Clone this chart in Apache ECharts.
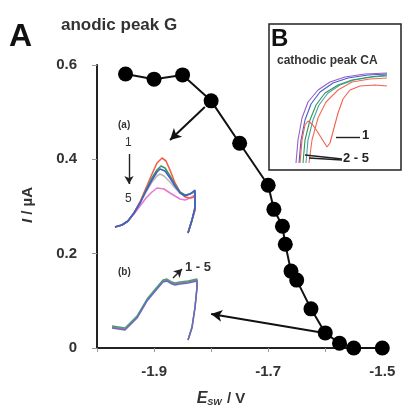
<!DOCTYPE html>
<html>
<head>
<meta charset="utf-8">
<script src="https://cdn.jsdelivr.net/npm/echarts@6/dist/echarts.min.js"></script>
<style>
  html, body { margin: 0; padding: 0; background: #fff; }
  #chart { width: 404px; height: 409px; }
</style>
</head>
<body>
<div id="chart"></div>
<script>
// main curve: anodic peak G current vs switching potential
const potentials = [-1.95, -1.90, -1.85, -1.80, -1.75, -1.70, -1.69, -1.675, -1.67, -1.66, -1.65, -1.625, -1.60, -1.575, -1.55, -1.50];
const currents   = [0.581, 0.570, 0.579, 0.524, 0.434, 0.345, 0.294, 0.258, 0.220, 0.163, 0.144, 0.083, 0.032, 0.010, 0.0, 0.0];
const xLabels = [-1.9, -1.7, -1.5];

// inset (a): voltammograms 1..5, inset units 0..100
const insetA1 = [[5,13],[12,15],[18,19],[24,27],[30,38],[36,52],[42,66],[47,77],[52,82],[56,79],[60,70],[65,57],[70,48],[75,43],[80,42],[85,43],[87,41],[85,30],[82,20],[78,7]];
const insetA2 = [[5,13],[12,15],[18,19],[24,27],[30,37],[36,50],[42,62],[47,70],[51,74],[55,72],[60,64],[65,55],[70,48],[75,45],[80,46],[85,49],[87,49],[85,32],[82,20],[78,7]];
const insetA3 = [[5,13],[12,15],[18,19],[24,27],[30,37],[36,48],[42,58],[47,64],[50,66],[54,64],[60,58],[65,52],[70,47],[75,45],[80,46],[85,48],[87,48],[85,31],[82,20],[78,7]];
const insetA4 = [[5,13],[12,15],[18,19],[24,27],[30,37],[36,49],[42,60],[47,68],[50,71],[55,69],[60,62],[65,54],[70,47],[75,44],[80,46],[85,50],[87,50],[85,33],[82,20],[78,7]];
const insetA5 = [[5,13],[12,15],[18,19],[24,26],[30,34],[36,42],[42,48],[47,52],[49,53],[54,51],[60,47],[65,44],[70,41],[75,40],[80,42],[85,45],[87,44],[85,30],[82,20],[78,7]];

// inset (b): voltammograms 1..5 nearly overlapping
const insetB1 = [[2,23],[15,21],[27,33],[37,50],[47,62],[53,69],[57,70],[62,67],[65,66],[70,67],[78,68],[87,70],[87,63],[85,43],[82,23],[78,10]];
const insetB2 = [[2,24],[15,22],[27,34],[37,51],[47,63],[53,70],[57,71],[62,68],[65,67],[70,68],[78,69],[87,71],[87,63],[85,43],[82,23],[78,10]];
const insetB3 = [[2,22],[15,20],[27,32],[37,49],[47,61],[53,68],[57,69],[62,66],[65,65],[70,66],[78,67],[87,69],[87,62],[85,42],[82,22],[78,10]];

// inset B: cathodic peak CA, curves 1..5
const cathodic1 = [[10,7],[12,30],[15,45],[18,49],[22,46],[27,39],[32,31],[37,23],[40,27],[44,42],[48,57],[53,71],[60,80],[70,84],[85,85],[97,84]];
const cathodic2 = [[6,7],[8,30],[12,52],[18,68],[28,80],[40,88],[55,93],[75,96],[97,97]];
const cathodic3 = [[9,7],[11,30],[15,50],[21,66],[30,78],[43,87],[58,92],[78,95],[97,96]];
const cathodic4 = [[13,7],[15,30],[20,50],[26,65],[35,77],[48,85],[62,90],[80,93],[97,95]];
const cathodic5 = [[19,7],[22,30],[28,52],[36,68],[48,80],[62,88],[80,91],[97,92]];
const cathodic6 = [[16,7],[18,30],[23,50],[29,65],[38,77],[50,85],[64,90],[82,93],[97,94]];

const chart = echarts.init(document.getElementById('chart'));
const labelFont = { fontFamily: 'Liberation Sans', fontWeight: 'bold', color: '#333' };

function inset(data, color, xi, w) {
  return {
    type: 'line', xAxisIndex: xi, yAxisIndex: xi, data: data,
    symbol: 'none', silent: true,
    lineStyle: { color: color, width: w || 1.3 }
  };
}
function hiddenAxis(gi) {
  return { type: 'value', gridIndex: gi, min: 0, max: 100, show: false };
}
// empty series that only carries annotation lines in an inset's units
function annot(xi, lines, arrow) {
  return {
    type: 'line', xAxisIndex: xi, yAxisIndex: xi, data: [], silent: true,
    markLine: {
      silent: true, symbol: arrow ? ['none', 'arrow'] : 'none', symbolSize: [7, 8],
      label: { show: false },
      lineStyle: { color: '#222', width: 1.4, type: 'solid' },
      data: lines.map(l => [{ coord: l[0] }, { coord: l[1] }])
    }
  };
}

chart.setOption({
  animation: false,
  grid: [
    { left: 97, top: 65, width: 291, height: 283 },
    { left: 110, top: 140, width: 100, height: 100 },
    { left: 110, top: 250, width: 100, height: 100 },
    { left: 290, top: 70, width: 100, height: 100 }
  ],
  xAxis: [
    {
      type: 'value', gridIndex: 0, min: -2.0, max: -1.49, interval: 0.1,
      axisLine: { lineStyle: { color: '#222', width: 2 } },
      axisTick: { show: true, length: 4, lineStyle: { color: '#999' } },
      splitLine: { show: false },
      axisLabel: Object.assign({
        fontSize: 15, margin: 16,
        formatter: v => {
          const r = Math.round(v * 10) / 10;
          return xLabels.indexOf(r) >= 0 ? r.toFixed(1) : '';
        }
      }, labelFont)
    },
    hiddenAxis(1), hiddenAxis(2), hiddenAxis(3)
  ],
  yAxis: [
    {
      type: 'value', gridIndex: 0, min: 0, max: 0.6, interval: 0.2,
      axisLine: { show: true, lineStyle: { color: '#222', width: 2 } },
      axisTick: { show: true, length: 5, lineStyle: { color: '#999' } },
      splitLine: { show: false },
      axisLabel: Object.assign({
        fontSize: 15, margin: 20,
        formatter: v => v === 0 ? '0' : v.toFixed(1)
      }, labelFont)
    },
    hiddenAxis(1), hiddenAxis(2), hiddenAxis(3)
  ],
  series: [
    {
      type: 'line', data: potentials.map((x, i) => [x, currents[i]]),
      symbol: 'circle', symbolSize: 15, z: 5,
      itemStyle: { color: '#000' },
      lineStyle: { color: '#111', width: 2 },
      markLine: {
        silent: true, symbol: ['none', 'arrow'], symbolSize: [9, 11],
        label: { show: false },
        lineStyle: { color: '#111', width: 2, type: 'solid' },
        data: [
          [{ coord: [-1.811, 0.511] }, { coord: [-1.872, 0.441] }],
          [{ coord: [-1.612, 0.034] }, { coord: [-1.800, 0.072] }]
        ]
      }
    },
    inset(insetA3, '#b8b8b8', 1, 1.6),
    inset(insetA5, '#e47ad2', 1, 1.6),
    inset(insetA1, '#f2604c', 1, 1.6),
    inset(insetA2, '#2f9c5c', 1, 1.6),
    inset(insetA4, '#4a5ccc', 1, 1.6),
    annot(1, [[[19, 86], [19, 56]]], true),
    inset(insetB1, '#d66a60', 2, 1.4),
    inset(insetB2, '#4aa07a', 2, 1.4),
    inset(insetB3, '#6b68c6', 2, 1.5),
    annot(2, [[[63, 72], [72, 81]]], true),
    inset(cathodic5, '#f26a55', 3, 1.1),
    inset(cathodic6, '#4aa6a8', 3, 1.1),
    inset(cathodic4, '#2e9a5a', 3, 1.1),
    inset(cathodic3, '#4a5ccc', 3, 1.1),
    inset(cathodic2, '#9a5cc8', 3, 1.1),
    inset(cathodic1, '#f2604c', 3, 1.1),
    annot(3, [[[46, 33], [70, 33]], [[15, 15], [52, 11]], [[19, 12], [52, 10]]], false)
  ],
  graphic: [
    { type: 'rect', shape: { x: 269, y: 24, width: 132, height: 146 }, style: { fill: 'none', stroke: '#222', lineWidth: 1.5 }, z: 1 },
    { type: 'text', left: 9, top: 21, style: { text: 'A', font: 'bold 32px Liberation Sans', fill: '#111' } },
    { type: 'text', left: 61, top: 17, style: { text: 'anodic peak G', font: 'bold 17px Liberation Sans', fill: '#333' } },
    { type: 'text', left: 271, top: 27, style: { text: 'B', font: 'bold 24px Liberation Sans', fill: '#111' } },
    { type: 'text', left: 277, top: 55, style: { text: 'cathodic peak CA', font: 'bold 12px Liberation Sans', fill: '#333' } },
    { type: 'text', left: 118, top: 120, style: { text: '(a)', font: 'bold 10px Liberation Sans', fill: '#333' } },
    { type: 'text', left: 125, top: 137, style: { text: '1', font: '12px Liberation Sans', fill: '#333' } },
    { type: 'text', left: 125, top: 193, style: { text: '5', font: '12px Liberation Sans', fill: '#333' } },
    { type: 'text', left: 118, top: 267, style: { text: '(b)', font: 'bold 10px Liberation Sans', fill: '#333' } },
    { type: 'text', left: 185, top: 261, style: { text: '1 - 5', font: 'bold 13px Liberation Sans', fill: '#333' } },
    { type: 'text', left: 362, top: 129, style: { text: '1', font: 'bold 13px Liberation Sans', fill: '#222' } },
    { type: 'text', left: 343, top: 152, style: { text: '2 - 5', font: 'bold 13px Liberation Sans', fill: '#222' } },
    {
      type: 'text', x: 28, y: 205, rotation: Math.PI / 2,
      style: {
        text: '{i|I} / µA', font: 'bold 15px Liberation Sans', fill: '#333',
        align: 'center', verticalAlign: 'middle',
        rich: { i: { fontStyle: 'italic', fontWeight: 'bold', fontSize: 15, fontFamily: 'Liberation Sans', fill: '#333' } }
      }
    },
    {
      type: 'text', x: 221, y: 399,
      style: {
        text: '{e|E}{s|SW} / V', font: 'bold 15px Liberation Sans', fill: '#333',
        align: 'center', verticalAlign: 'middle',
        rich: {
          e: { fontStyle: 'italic', fontWeight: 'bold', fontSize: 16, fontFamily: 'Liberation Sans', fill: '#333' },
          s: { fontStyle: 'italic', fontWeight: 'bold', fontSize: 9, fontFamily: 'Liberation Sans', fill: '#333', verticalAlign: 'bottom', padding: [7, 1, 0, 0] }
        }
      }
    }
  ]
});
</script>
</body>
</html>
